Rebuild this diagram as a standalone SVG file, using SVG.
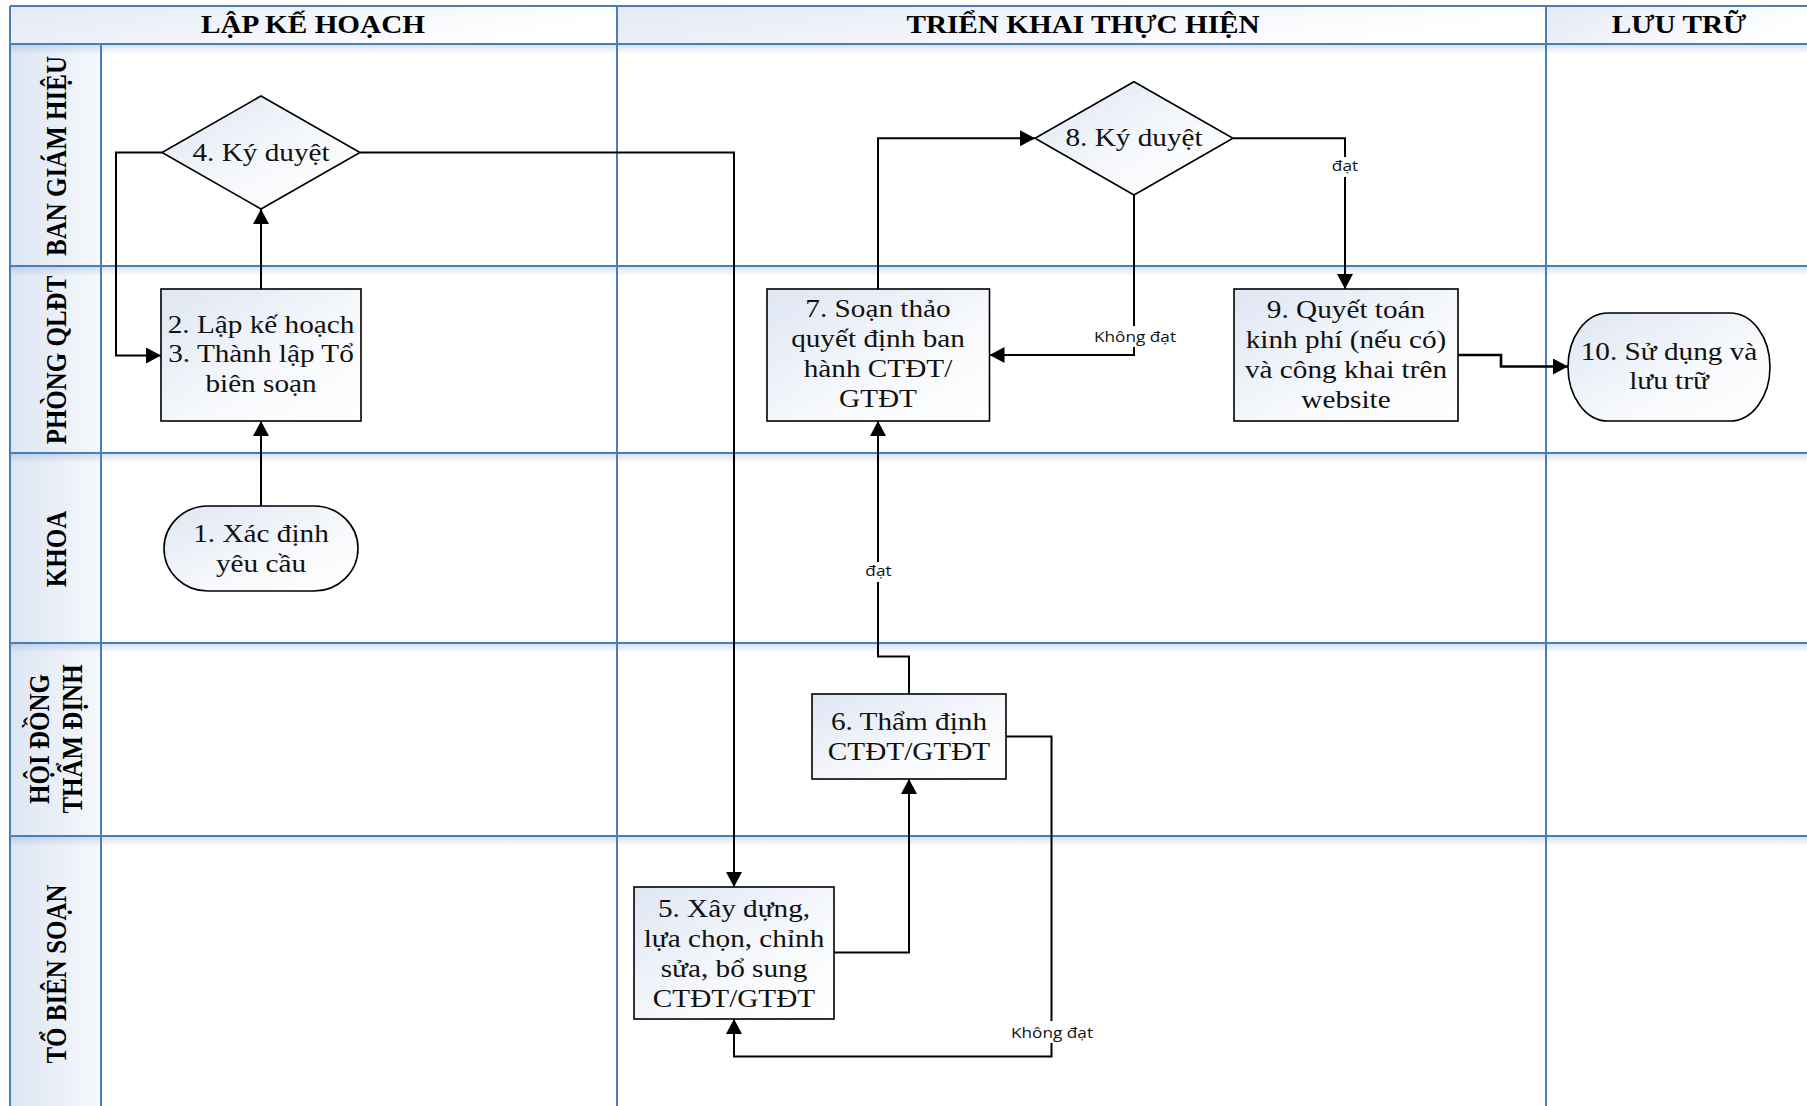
<svg xmlns="http://www.w3.org/2000/svg" width="1807" height="1106" viewBox="0 0 1807 1106">
<defs>
<style>
.grid{stroke:#4a7ebb;stroke-width:2;fill:none}
.hdr{font-family:"Liberation Serif","Times New Roman",serif;font-weight:bold;font-size:25px;text-anchor:middle;fill:#000}
.box{fill:url(#nodeFill);stroke:#000;stroke-width:1.6}
.nt{font-family:"Liberation Serif","Times New Roman",serif;font-size:25px;text-anchor:middle;fill:#111}
.conn{fill:none;stroke:#000;stroke-width:2}
.lbl{font-family:"Open Sans","Liberation Sans",sans-serif;font-size:14px;text-anchor:middle;fill:#111}
.lblbg{fill:#fff}
.shadow{fill:url(#shadowV)}
.hcell{fill:url(#hdrFill)}
.lcell{fill:url(#laneFill)}
</style>
<linearGradient id="nodeFill" x1="0" y1="0" x2="1" y2="1">
<stop offset="0" stop-color="#dfe6f3"/>
<stop offset="0.6" stop-color="#f7f9fc"/>
<stop offset="1" stop-color="#ffffff"/>
</linearGradient>
<linearGradient id="hdrFill" x1="0" y1="0" x2="1" y2="0.3">
<stop offset="0" stop-color="#e3eaf5"/>
<stop offset="1" stop-color="#ffffff"/>
</linearGradient>
<linearGradient id="laneFill" x1="0" y1="0" x2="1" y2="0">
<stop offset="0" stop-color="#dde6f3"/>
<stop offset="1" stop-color="#f6f8fc"/>
</linearGradient>
<linearGradient id="shadowV" x1="0" y1="0" x2="0" y2="1">
<stop offset="0" stop-color="#4a7ebb" stop-opacity="0.22"/>
<stop offset="1" stop-color="#4a7ebb" stop-opacity="0"/>
</linearGradient>
<marker id="arrow" viewBox="0 0 15 16" refX="15" refY="8" markerWidth="15" markerHeight="16" orient="auto" markerUnits="userSpaceOnUse">
<path d="M0,0 L15,8 L0,16 z" fill="#000"/>
</marker>
</defs>

<rect x="0" y="0" width="1807" height="1106" fill="#fff"/>

<g id="swimlanes">
<rect class="hcell" x="10" y="6" width="607" height="38"/>
<rect class="hcell" x="617" y="6" width="929" height="38"/>
<rect class="hcell" x="1546" y="6" width="261" height="38"/>
<rect class="lcell" x="10" y="44" width="91" height="222"/>
<rect class="lcell" x="10" y="266" width="91" height="187"/>
<rect class="lcell" x="10" y="453" width="91" height="190"/>
<rect class="lcell" x="10" y="643" width="91" height="193"/>
<rect class="lcell" x="10" y="836" width="91" height="270"/>
<rect class="shadow" x="10" y="45" width="1797" height="9"/>
<rect class="shadow" x="10" y="267" width="1797" height="9"/>
<rect class="shadow" x="10" y="454" width="1797" height="9"/>
<rect class="shadow" x="10" y="644" width="1797" height="9"/>
<rect class="shadow" x="10" y="837" width="1797" height="9"/>
<path class="grid" d="M10,6 H1807 M10,44 H1807 M10,266 H1807 M10,453 H1807 M10,643 H1807 M10,836 H1807"/>
<path class="grid" d="M10,6 V1106 M101,44 V1106 M617,6 V1106 M1546,6 V1106"/>
<text class="hdr" transform="translate(313 0) scale(1.17 1)" x="0" y="33">LẬP KẾ HOẠCH</text>
<text class="hdr" transform="translate(1083 0) scale(1.17 1)" x="0" y="33">TRIỂN KHAI THỰC HIỆN</text>
<text class="hdr" transform="translate(1679 0) scale(1.17 1)" x="0" y="33">LƯU TRỮ</text>
<text class="hdr" transform="translate(66 156) scale(1.17 1) rotate(-90)" x="0" y="0">BAN GIÁM HIỆU</text>
<text class="hdr" transform="translate(66 360) scale(1.17 1) rotate(-90)" x="0" y="0">PHÒNG QLĐT</text>
<text class="hdr" transform="translate(66 549) scale(1.17 1) rotate(-90)" x="0" y="0">KHOA</text>
<text class="hdr" transform="translate(49 739) scale(1.17 1) rotate(-90)" x="0" y="0">HỘI ĐỒNG</text>
<text class="hdr" transform="translate(82 739) scale(1.17 1) rotate(-90)" x="0" y="0">THẨM ĐỊNH</text>
<text class="hdr" transform="translate(66 974) scale(1.17 1) rotate(-90)" x="0" y="0">TỔ BIÊN SOẠN</text>
</g>

<g id="connectors">
<path class="conn" d="M261,506 V421" marker-end="url(#arrow)"/>
<path class="conn" d="M261,289 V209" marker-end="url(#arrow)"/>
<path class="conn" d="M162,152.5 H116 V355.5 H161" marker-end="url(#arrow)"/>
<path class="conn" d="M360,152.5 H734 V887" marker-end="url(#arrow)"/>
<path class="conn" d="M834,952.5 H909 V779" marker-end="url(#arrow)"/>
<path class="conn" d="M1006,736.5 H1051.5 V1056.5 H734 V1019" marker-end="url(#arrow)"/>
<path class="conn" d="M909,694 V656.5 H878 V421" marker-end="url(#arrow)"/>
<path class="conn" d="M878,289 V138.3 H1035" marker-end="url(#arrow)"/>
<path class="conn" d="M1134,195 V355 H989.5" marker-end="url(#arrow)"/>
<path class="conn" d="M1233,138.3 H1345 V289" marker-end="url(#arrow)"/>
<path class="conn" style="stroke-width:2.6" d="M1458,355 H1501 V366.5 H1568" marker-end="url(#arrow)"/>
<rect class="lblbg" x="1092" y="326" width="86" height="21"/>
<text class="lbl" transform="translate(1135 0) scale(1.23 1)" x="0" y="342">Không đạt</text>
<rect class="lblbg" x="1330" y="157" width="30" height="20"/>
<text class="lbl" transform="translate(1345 0) scale(1.23 1)" x="0" y="171.5">đạt</text>
<rect class="lblbg" x="863" y="562" width="30" height="20"/>
<text class="lbl" transform="translate(878.5 0) scale(1.23 1)" x="0" y="576.5">đạt</text>
<rect class="lblbg" x="1009" y="1021" width="86" height="22"/>
<text class="lbl" transform="translate(1052 0) scale(1.23 1)" x="0" y="1038">Không đạt</text>
</g>

<g id="node-1">
<rect class="box" x="164" y="506" width="194" height="85" rx="44" ry="42.5"/>
<text class="nt" transform="translate(261 0) scale(1.17 1)"><tspan x="0" y="542">1. Xác định</tspan><tspan x="0" y="572">yêu cầu</tspan></text>
</g>

<g id="node-2">
<rect class="box" x="161" y="289" width="200" height="132"/>
<text class="nt" transform="translate(261 0) scale(1.17 1)"><tspan x="0" y="333">2. Lập kế hoạch</tspan><tspan x="0" y="362">3. Thành lập Tổ</tspan><tspan x="0" y="392">biên soạn</tspan></text>
</g>

<g id="node-4">
<polygon class="box" points="261,96 360,152.5 261,209 162,152.5"/>
<text class="nt" transform="translate(261 0) scale(1.17 1)" x="0" y="161">4. Ký duyệt</text>
</g>

<g id="node-5">
<rect class="box" x="634" y="887" width="200" height="132"/>
<text class="nt" transform="translate(734 0) scale(1.17 1)"><tspan x="0" y="917">5. Xây dựng,</tspan><tspan x="0" y="947">lựa chọn, chỉnh</tspan><tspan x="0" y="977">sửa, bổ sung</tspan><tspan x="0" y="1007">CTĐT/GTĐT</tspan></text>
</g>

<g id="node-6">
<rect class="box" x="812" y="694" width="194" height="85"/>
<text class="nt" transform="translate(909 0) scale(1.17 1)"><tspan x="0" y="730">6. Thẩm định</tspan><tspan x="0" y="760">CTĐT/GTĐT</tspan></text>
</g>

<g id="node-7">
<rect class="box" x="767" y="289" width="222.5" height="132"/>
<text class="nt" transform="translate(878 0) scale(1.17 1)"><tspan x="0" y="317">7. Soạn thảo</tspan><tspan x="0" y="347">quyết định ban</tspan><tspan x="0" y="377">hành CTĐT/</tspan><tspan x="0" y="407">GTĐT</tspan></text>
</g>

<g id="node-8">
<polygon class="box" points="1134,81.7 1233,138.3 1134,195 1035,138.3"/>
<text class="nt" transform="translate(1134 0) scale(1.17 1)" x="0" y="146">8. Ký duyệt</text>
</g>

<g id="node-9">
<rect class="box" x="1234" y="289" width="224" height="132"/>
<text class="nt" transform="translate(1346 0) scale(1.17 1)"><tspan x="0" y="318">9. Quyết toán</tspan><tspan x="0" y="348">kinh phí (nếu có)</tspan><tspan x="0" y="378">và công khai trên</tspan><tspan x="0" y="408">website</tspan></text>
</g>

<g id="node-10">
<rect class="box" x="1568" y="313" width="202" height="108" rx="40" ry="54"/>
<text class="nt" transform="translate(1669 0) scale(1.17 1)"><tspan x="0" y="360">10. Sử dụng và</tspan><tspan x="0" y="389">lưu trữ</tspan></text>
</g>
</svg>
